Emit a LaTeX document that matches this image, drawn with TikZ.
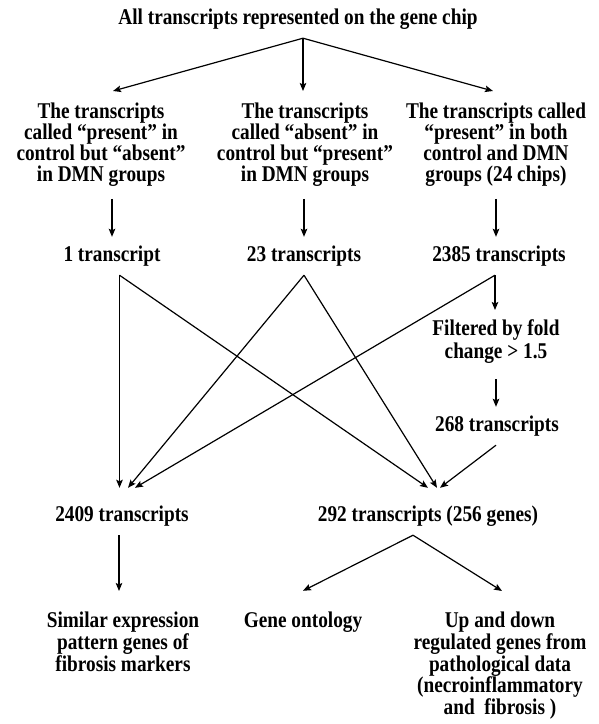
\documentclass[tikz,border=0pt]{standalone}
\usepackage{fontspec}
\setmainfont{Liberation Serif}[FakeStretch=0.857]
\usetikzlibrary{arrows.meta}
\newcommand\bfnt{\fontsize{22.5}{21}\selectfont\bfseries}
\newcommand\bfntb{\fontsize{22.5}{20}\selectfont\bfseries}
\newcommand\bfntc{\fontsize{22.5}{23}\selectfont\bfseries}
\begin{document}
\begin{tikzpicture}[x=1pt,y=-1pt,
  arr/.style={line width=1.2pt,-{Stealth[length=8pt,width=6.5pt,inset=1.5pt]}},
  one/.style={font=\bfnt, text height=15pt, text depth=5pt, inner ysep=9pt, inner xsep=2pt, anchor=base},
  multi/.style={font=\bfnt, align=center, inner xsep=2pt, anchor=north},
  big/.style={one, text height=24pt, inner ysep=9pt}
]
\useasboundingbox (0,0) rectangle (598,724);
% nodes
\node[one] (T) at (298,24) {All transcripts represented on the gene chip};
\node[multi, inner ysep=12pt] (c1) at (101,91) {The transcripts\\called “present” in\\control but “absent”\\in DMN groups};
\node[multi, inner ysep=12pt] (c2) at (305,91) {The transcripts\\called “absent” in\\control but “present”\\in DMN groups};
\node[multi, inner ysep=12pt] (c3) at (496,91) {The transcripts called\\“present” in both\\control and DMN\\groups (24 chips)};
\node[one] (t1) at (112,261) {1 transcript};
\node[one] (t2) at (304,261) {23 transcripts};
\node[one] (t3) at (499,261) {2385 transcripts};
\node[multi, inner ysep=9pt, font=\bfntc] (filt) at (496,310) {Filtered by fold\\change > 1.5};
\node[one] (n268) at (497,431) {268 transcripts};
\node[big] (a2409) at (122,521) {2409 transcripts};
\node[big] (a292) at (428,521) {292 transcripts (256 genes)};
\node[multi, inner ysep=21pt, font=\bfntb] (sim) at (123,591) {Similar expression\\pattern genes of\\fibrosis markers};
\node[one, inner ysep=21pt] (gene) at (303,627) {Gene ontology};
\node[multi, inner ysep=21pt, font=\bfntb] (up) at (500,591) {Up and down\\regulated genes from\\pathological data\\(necroinflammatory\\and\ \ fibrosis )};
% connectors
\draw[arr] ([xshift=5pt]T.south) -- ([xshift=12pt]c1.north);
\draw[arr] ([xshift=5pt]T.south) -- ([xshift=-2pt]c2.north);
\draw[arr] ([xshift=5pt]T.south) -- ([xshift=-3pt]c3.north);
\draw[arr] (c1.south -| t1) -- (t1.north);
\draw[arr] (c2.south -| t2) -- (t2.north);
\draw[arr] (c3.south) -- (c3.south |- t3.north);
\draw[arr] ([xshift=7.5pt]t1.south) -- ([xshift=7.5pt]t1.south |- a2409.north);
\draw[arr] ([xshift=7.5pt]t1.south) -- (a292.north);
\draw[arr] (t2.south) -- ([xshift=6pt]a2409.north);
\draw[arr] (t2.south) -- ([xshift=9pt]a292.north);
\draw[arr] ([xshift=-4pt]t3.south) -- ([xshift=13pt]a2409.north);
\draw[arr] ([xshift=-4pt]t3.south) -- ([xshift=-4pt]t3.south |- filt.north);
\draw[arr] ([yshift=-7pt]filt.south) -- (filt.south |- n268.north);
\draw[arr] ([xshift=-1pt]n268.south) -- ([xshift=12pt]a292.north);
\draw[arr] ([xshift=-3pt]a2409.south) -- ([xshift=-3pt]a2409.south |- sim.north);
\draw[arr] ([xshift=-15pt]a292.south) -- (gene.north);
\draw[arr] ([xshift=-15pt]a292.south) -- ([xshift=2pt]up.north);
\end{tikzpicture}
\end{document}
